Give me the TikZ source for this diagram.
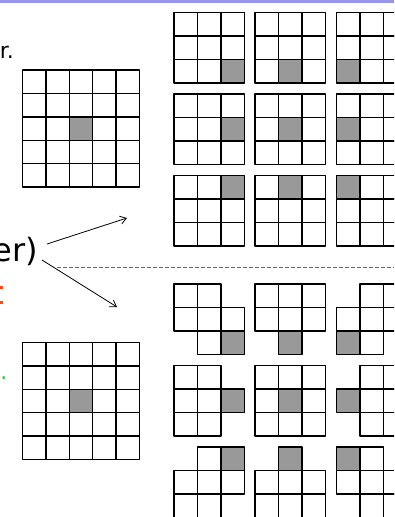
\documentclass[tikz,border=0pt]{standalone}
\usepackage{fontspec}
\setmainfont{DejaVu Sans}
\usetikzlibrary{arrows.meta}
\definecolor{cellgray}{RGB}{153,153,153}
\definecolor{barcol}{RGB}{150,150,228}
\definecolor{orangefrag}{RGB}{255,70,20}
\definecolor{greendot}{RGB}{40,200,60}
\newcommand\cs{23.4}
\newcommand\pgrid[5]{%
  \fill[cellgray] (#1+#5*\cs,#2+#4*\cs) rectangle ++(\cs,\cs);
  \foreach \r/\c in {#3} {\draw[cellline] (#1+\c*\cs,#2+\r*\cs) rectangle ++(\cs,\cs);}
}
\begin{document}
\begin{tikzpicture}[x=1pt,y=-1pt,
  cellline/.style={draw=black,line width=1.4pt,line join=round},
  arr/.style={-{Straight Barb[length=6pt,width=8pt]},line width=0.8pt},
  txt/.style={inner sep=0pt,font=\fontsize{22}{26}\selectfont},
  bigtxt/.style={inner sep=0pt,font=\fontsize{32}{38}\selectfont}]
\useasboundingbox (0,0) rectangle (394,517);
\clip (0,0) rectangle (394,517);
% top bar
\fill[barcol] (0,0) rectangle (394,3);
% texts
\node[txt,anchor=base east] (t1) at (14,58) {r.};
\node[bigtxt,anchor=base east] (t2) at (38,261) {er)};
\fill[orangefrag] (0,286) rectangle (3,289);
\fill[orangefrag] (0,301) rectangle (3,304);
\node[txt,anchor=base east,text=greendot] (t3) at (7.5,379) {.};
% big grids
\fill[cellgray] (22.5+2*\cs,70+2*\cs) rectangle ++(\cs,\cs);
\fill[cellgray] (22.5+2*\cs,342.5+2*\cs) rectangle ++(\cs,\cs);
\foreach \i in {0,...,4}{\foreach \j in {0,...,4}{
  \draw[cellline] (22.5+\i*\cs,70+\j*\cs) rectangle ++(\cs,\cs);
  \draw[cellline] (22.5+\i*\cs,342.5+\j*\cs) rectangle ++(\cs,\cs);}}
% upper 3x3 grids
\pgrid{174}{12.7}{0/0,0/1,0/2,1/0,1/1,1/2,2/0,2/1,2/2}{2}{2}
\pgrid{255}{12.7}{0/0,0/1,0/2,1/0,1/1,1/2,2/0,2/1,2/2}{2}{1}
\pgrid{336.5}{12.7}{0/0,0/1,0/2,1/0,1/1,1/2,2/0,2/1,2/2}{2}{0}
\pgrid{174}{94}{0/0,0/1,0/2,1/0,1/1,1/2,2/0,2/1,2/2}{1}{2}
\pgrid{255}{94}{0/0,0/1,0/2,1/0,1/1,1/2,2/0,2/1,2/2}{1}{1}
\pgrid{336.5}{94}{0/0,0/1,0/2,1/0,1/1,1/2,2/0,2/1,2/2}{1}{0}
\pgrid{174}{175.7}{0/0,0/1,0/2,1/0,1/1,1/2,2/0,2/1,2/2}{0}{2}
\pgrid{255}{175.7}{0/0,0/1,0/2,1/0,1/1,1/2,2/0,2/1,2/2}{0}{1}
\pgrid{336.5}{175.7}{0/0,0/1,0/2,1/0,1/1,1/2,2/0,2/1,2/2}{0}{0}
% lower shapes
\pgrid{174}{284}{0/0,0/1,1/0,1/1,1/2,2/1,2/2}{2}{2}
\pgrid{255}{284}{0/0,0/1,0/2,1/0,1/1,1/2,2/1}{2}{1}
\pgrid{336.5}{284}{0/1,0/2,1/0,1/1,1/2,2/0,2/1}{2}{0}
\pgrid{174}{365.7}{0/0,0/1,1/0,1/1,1/2,2/0,2/1}{1}{2}
\pgrid{255}{365.7}{0/0,0/1,0/2,1/0,1/1,1/2,2/0,2/1,2/2}{1}{1}
\pgrid{336.5}{365.7}{0/1,0/2,1/0,1/1,1/2,2/1,2/2}{1}{0}
\pgrid{174}{447}{0/1,0/2,1/0,1/1,1/2,2/0,2/1}{0}{2}
\pgrid{255}{447}{0/1,1/0,1/1,1/2,2/0,2/1,2/2}{0}{1}
\pgrid{336.5}{447}{0/0,0/1,1/0,1/1,1/2,2/1,2/2}{0}{0}
% dashed separator
\coordinate (d1) at (57,267.7);
\coordinate (d2) at (394,267.7);
\draw[draw=black!60,line width=0.8pt,dash pattern=on 4pt off 2pt] (d1) -- (d2);
% arrows
\coordinate (a1s) at (47,244);
\coordinate (a1e) at (127,218);
\coordinate (a2s) at (42,260);
\coordinate (a2e) at (117,307);
\draw[arr] (a1s) -- (a1e);
\draw[arr] (a2s) -- (a2e);
\end{tikzpicture}
\end{document}
